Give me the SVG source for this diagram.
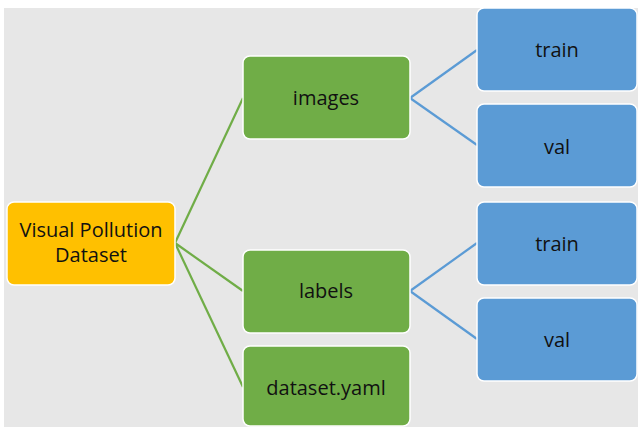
<svg xmlns="http://www.w3.org/2000/svg" width="638" height="427" viewBox="0 0 638 427">
<style>
.box{stroke:#ffffff;stroke-width:1.5}
.root{fill:#FFC000}
.grn{fill:#70AD47}
.blu{fill:#5B9BD5}
.t{font-family:"Open Sans","Liberation Sans",sans-serif;font-size:20px;fill:#111111;text-anchor:middle}
.cg{stroke:#70AD47;stroke-width:2.2;fill:none}
.cb{stroke:#5B9BD5;stroke-width:2.2;fill:none}
</style>
<rect x="0" y="0" width="638" height="427" fill="#ffffff"/>
<rect x="4" y="8" width="634" height="419" fill="#E7E7E7"/>
<g id="connectors">
<path class="cg" d="M175 243 L243 98"/>
<path class="cg" d="M175 243 L243 291"/>
<path class="cg" d="M175 243 L243 387"/>
<path class="cb" d="M410 98 L477 50"/>
<path class="cb" d="M410 98 L477 145"/>
<path class="cb" d="M410 291 L477 243"/>
<path class="cb" d="M410 291 L477 339"/>
</g>
<g id="root">
<rect class="box root" x="7" y="202" width="168" height="83" rx="7"/>
<text class="t" x="91" y="237">Visual Pollution</text>
<text class="t" x="91" y="262">Dataset</text>
</g>
<g id="images">
<rect class="box grn" x="243" y="56" width="167" height="83" rx="7"/>
<text class="t" x="326" y="105">images</text>
</g>
<g id="labels">
<rect class="box grn" x="243" y="250" width="167" height="83" rx="7"/>
<text class="t" x="326" y="298">labels</text>
</g>
<g id="dataset_yaml">
<rect class="box grn" x="243" y="346" width="167" height="80" rx="7"/>
<text class="t" x="326" y="395">dataset.yaml</text>
</g>
<g id="images_train">
<rect class="box blu" x="477" y="8" width="160" height="83" rx="7"/>
<text class="t" x="557" y="57">train</text>
</g>
<g id="images_val">
<rect class="box blu" x="477" y="104" width="160" height="83" rx="7"/>
<text class="t" x="557" y="154">val</text>
</g>
<g id="labels_train">
<rect class="box blu" x="477" y="202" width="160" height="83" rx="7"/>
<text class="t" x="557" y="251">train</text>
</g>
<g id="labels_val">
<rect class="box blu" x="477" y="298" width="160" height="83" rx="7"/>
<text class="t" x="557" y="347">val</text>
</g>
</svg>
